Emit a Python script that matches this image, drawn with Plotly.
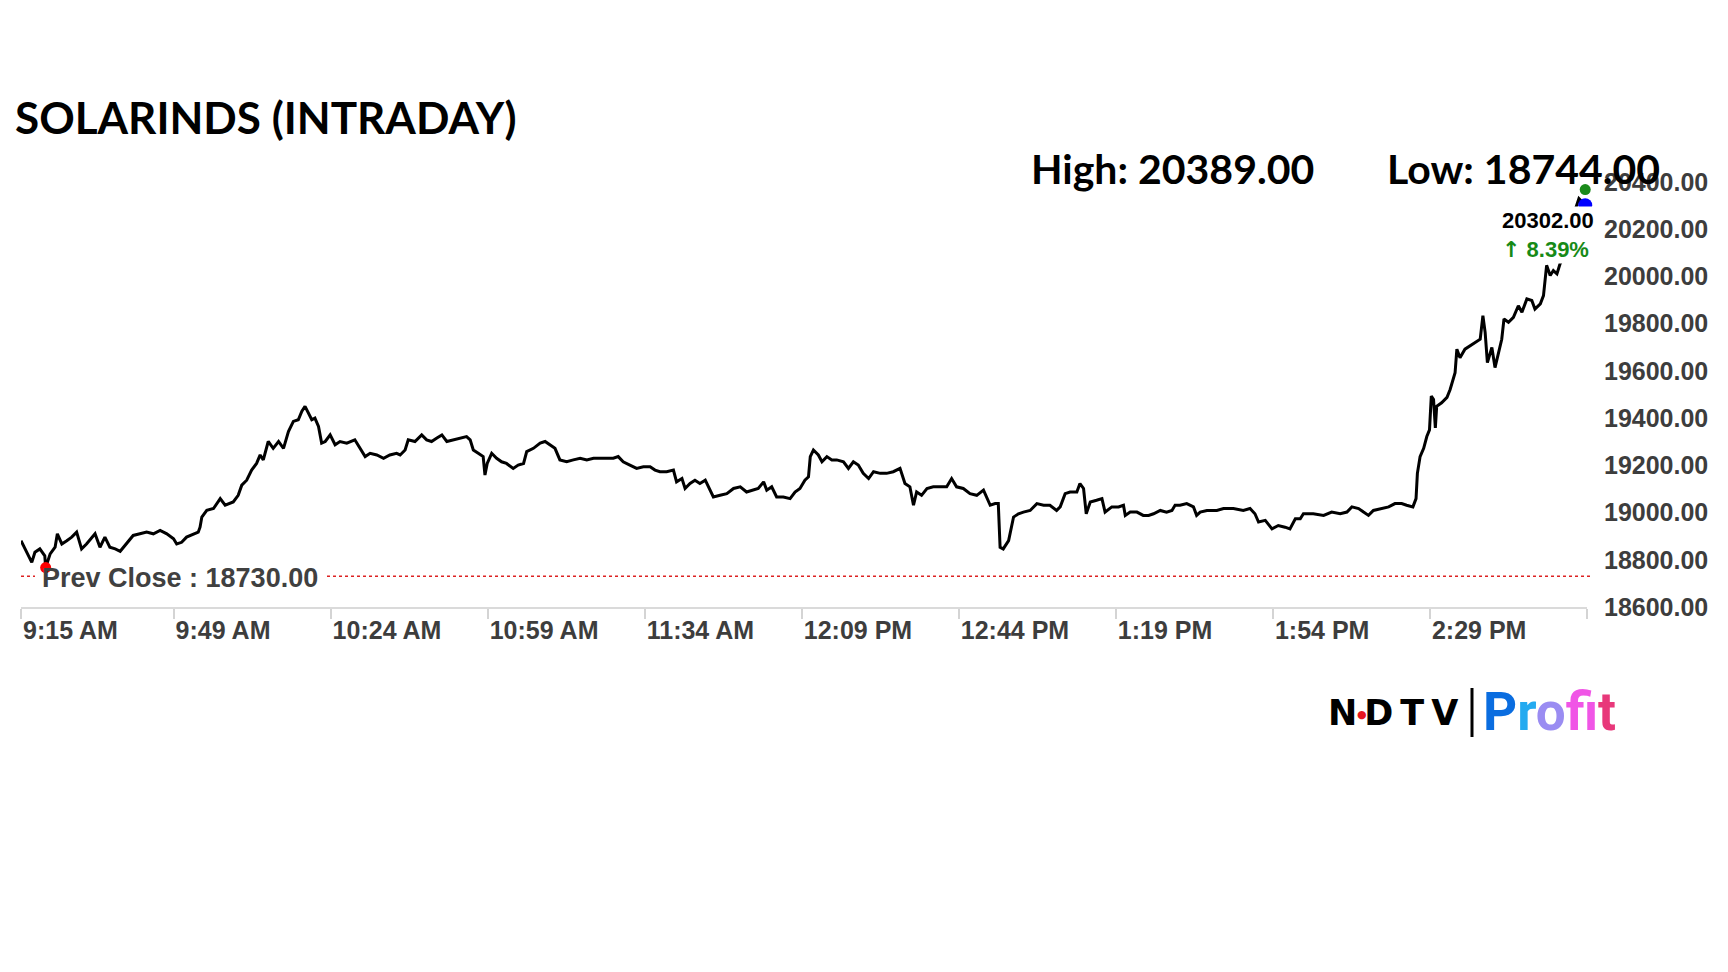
import pandas as pd
import plotly.graph_objects as go

# intraday trace: minutes after 9:15 AM and price
minutes = [
    0, 0.9, 1.6, 2.4, 3.1, 4.2, 5.3, 5.5, 6.5, 7.6, 8.1, 9.1, 10.2, 11.3, 12.4, 13.5, 14.6,
    16.5, 17.6, 18.7, 19.8, 21.0, 22.1, 23.2, 25.0, 26.5, 28.0, 29.5, 31.0, 32.5, 34.0,
    34.7, 35.8, 36.9, 38.4, 39.5, 39.9, 40.3, 41.4, 42.9, 44.4, 45.5, 47.3, 48.4, 49.2,
    50.3, 51.4, 52.5, 53.3, 54.0, 55.1, 56.2, 57.4, 58.5, 59.6, 60.7, 61.8, 62.6, 63.3,
    64.0, 64.8, 65.5, 66.3, 67.0, 67.8, 68.9, 70.0, 71.1, 72.6, 74.4, 75.6, 76.7, 77.8,
    79.3, 80.8, 82.2, 83.7,
    84.5, 85.6, 86.3, 87.8, 89.3, 90.4, 91.5, 92.6, 93.8, 94.9, 96.4, 97.8, 99.3, 100.1,
    100.8, 101.9, 103.0, 103.4, 103.9, 104.9, 106.0, 107.1, 108.2, 109.7, 110.8, 112.0,
    112.7, 114.2, 115.7, 116.8, 117.9, 119.0, 120.1, 121.6, 123.1, 124.6, 126.1, 127.6,
    129.0, 130.5, 132.0, 133.1, 134.2, 135.7, 137.2, 138.7, 140.2, 141.3, 142.4, 143.9,
    145.4, 146.1, 147.3, 148.0, 149.1, 150.2, 151.3, 152.5, 153.6, 154.3, 155.8, 157.3,
    158.8, 160.3, 161.7, 163.2, 164.3, 165.5, 166.2, 167.3, 168.4, 169.9, 171.4, 172.5,
    173.6, 174.7, 175.5, 175.9, 176.6, 177.7, 178.5, 179.6, 180.7, 181.8, 183.3, 184.4,
    185.5, 186.6, 187.7, 188.9, 190.0, 191.5, 192.9, 194.4, 195.9, 197.0, 198.1, 198.9,
    199.6, 200.7, 201.9, 203.3, 204.8, 206.3, 207.4, 208.5, 210.0, 211.5, 213.0, 214.5,
    216.0, 217.1, 217.8, 218.2, 218.9, 220.1, 221.2, 222.3, 223.4, 224.9, 226.4, 227.9,
    229.3, 230.8, 231.6, 232.7, 233.8, 235.3, 236.0, 236.8, 237.4, 238.3, 239.7, 240.9,
    241.6, 243.1, 244.6, 245.7, 246.1, 247.2, 248.7, 250.1, 251.3, 252.4, 253.9, 255.3,
    256.5, 257.2, 258.3, 259.8, 261.3, 262.0,
    262.8, 264.3, 266.5, 268.0, 270.2, 272.4, 273.9, 275.0, 275.8, 277.3, 278.8, 280.2,
    281.7, 282.8, 284.0, 285.1, 285.8, 288.0, 290.3, 292.1, 294.0, 295.5, 296.6, 298.1,
    299.2, 300.3, 301.4, 303.3, 304.8, 306.2, 307.7, 308.8, 310.2, 310.9, 311.2, 311.8,
    312.6, 313.3, 313.9, 314.3, 314.8, 315.2, 315.5, 316.6, 317.8, 318.5, 319.2, 319.6,
    320.0, 320.7, 321.8, 323.0, 324.1, 325.2, 325.8, 326.3, 326.8, 327.8, 328.5, 329.3,
    330.0, 330.5, 331.5, 332.6, 333.7, 334.5, 335.6, 336.7, 337.4, 338.6, 339.3, 340.0,
    340.8, 341.5, 342.3, 343.0, 343.4, 344.5, 345.8, 347.2, 348.6,
]
prices = [
    18881, 18846, 18825, 18789, 18832, 18846, 18817, 18767, 18825, 18853, 18910, 18867, 18881,
    18896, 18917, 18846, 18867, 18910, 18853, 18896, 18853, 18846, 18836, 18860, 18903,
    18910, 18917, 18910, 18924, 18910, 18889, 18867, 18874, 18896, 18910, 18917, 18938,
    18981, 19009, 19017, 19059, 19031, 19045, 19073, 19116, 19137, 19180, 19208, 19244,
    19223, 19301, 19272, 19301, 19272, 19343, 19386, 19393, 19429, 19450, 19422, 19393,
    19400, 19365, 19294, 19301, 19329, 19287, 19301, 19294, 19308, 19272, 19237, 19251,
    19244, 19230, 19244, 19251,
    19244, 19265, 19308, 19301, 19329, 19308, 19301, 19315, 19329, 19301, 19308, 19315,
    19322, 19308, 19265, 19251, 19237, 19159, 19208, 19251, 19230, 19215, 19208, 19187,
    19201, 19208, 19258, 19272, 19294, 19301, 19287, 19272, 19223, 19215, 19223, 19230,
    19223, 19230, 19230, 19230, 19230, 19237, 19215, 19201, 19187, 19194, 19194, 19180,
    19173, 19173, 19180, 19130, 19144, 19102, 19123, 19137, 19123, 19137, 19095, 19066,
    19073, 19080, 19102, 19109, 19087, 19095, 19102, 19130, 19095, 19109, 19066, 19066,
    19059, 19087,
    19102, 19137, 19151, 19237, 19265, 19244, 19215, 19237, 19223, 19223, 19215, 19187,
    19215, 19201, 19166, 19144, 19173, 19166, 19166, 19173, 19187, 19123, 19109, 19031,
    19087, 19073, 19102, 19109, 19109, 19109, 19144, 19109, 19102, 19080, 19073, 19095,
    19031, 19038, 19038, 18853, 18846, 18881, 18981, 18995, 19002, 19009, 19038, 19031,
    19031, 19009, 19024, 19080, 19087, 19087, 19123, 19102, 18995, 19045, 19052, 19059,
    19002, 19024, 19024, 19031, 18988, 19002, 19002, 18988, 18988, 18995, 19009, 19002,
    19009, 19031, 19031, 19038, 19024, 18988,
    19002, 19009, 19009, 19017, 19017, 19009, 19017, 18995, 18960, 18967, 18931, 18945,
    18938, 18931, 18974, 18974, 18995, 18995, 18988, 19002, 18995, 19002, 19024, 19017,
    19002, 18988, 19009, 19017, 19024, 19038, 19038, 19031, 19024, 19059, 19166, 19237,
    19272, 19322, 19350, 19493, 19479, 19358, 19450, 19465, 19488, 19521, 19571, 19592,
    19692, 19656, 19692, 19706, 19720, 19734, 19834, 19763, 19635, 19699, 19614, 19685,
    19734, 19820, 19806, 19827, 19876, 19848, 19905, 19898, 19862, 19884, 19919, 20047,
    20004, 20025, 20011, 20054, 20068, 20150, 20250, 20330, 20302,
]

symbol = "SOLARINDS"
prev_close = 18730.00
day_high = 20389.00
day_low = 18744.00
last_price = 20302.00
change_pct = 8.39
# dots as they sit on the picture
low_dot_minute = 5.5
low_dot_price = 18767
high_dot_price = 20368

tick_labels = ["9:15 AM", "9:49 AM", "10:24 AM", "10:59 AM", "11:34 AM",
               "12:09 PM", "12:44 PM", "1:19 PM", "1:54 PM", "2:29 PM", "3:04 PM"]
y_ticks = [18600, 18800, 19000, 19200, 19400, 19600, 19800, 20000, 20200, 20400]

day = "2024-01-01"
open_time = pd.Timestamp(f"{day} 09:15")
times = open_time + pd.to_timedelta(minutes, unit="min")
tick_vals = [pd.Timestamp(f"{day} {t}") for t in tick_labels]
tick_text = tick_labels[:-1] + [""]

# plot box in page pixels
W, H = 1728, 972
L, R, T, B = 21, 1587, 182, 607


def px(x):
    return (x - L) / (R - L)


def py(y):
    return (B - y) / (B - T)


fig = go.Figure()

fig.add_trace(go.Scatter(
    x=times, y=prices, mode="lines",
    line=dict(color="black", width=3),
    hoverinfo="x+y", showlegend=False,
))
fig.add_trace(go.Scatter(
    x=[open_time + pd.Timedelta(minutes=low_dot_minute)], y=[low_dot_price],
    mode="markers", marker=dict(color="#ff0000", size=11),
    cliponaxis=False, showlegend=False,
))
fig.add_trace(go.Scatter(
    x=[times[-1]], y=[high_dot_price], mode="markers",
    marker=dict(color="#1a8a1a", size=11), cliponaxis=False, showlegend=False,
))
fig.add_trace(go.Scatter(
    x=[times[-1]], y=[last_price], mode="markers",
    marker=dict(color="#0000ff", size=14), cliponaxis=False, showlegend=False,
))

# prev close dotted line, broken where the label sits
for a, b in [(0, px(35)), (px(327), px(1590))]:
    fig.add_shape(type="line", xref="paper", yref="y", x0=a, x1=b,
                  y0=prev_close, y1=prev_close,
                  line=dict(color="#d22", width=1.5, dash="dot"))

fig.add_shape(type="line", xref="paper", yref="paper",
              x0=px(1472), x1=px(1472), y0=py(688), y1=py(737),
              line=dict(color="black", width=3))

ann = [
    dict(text=f"{symbol} (INTRADAY)", x=px(13), y=py(117),
         font=dict(family="Lato", size=44, color="black", weight="bold")),
    dict(text=f"High: {day_high:.2f}", x=px(1029), y=py(168),
         font=dict(family="Lato", size=41, color="black", weight="bold")),
    dict(text=f"Low: {day_low:.2f}", x=px(1385), y=py(168),
         font=dict(family="Lato", size=41, color="black", weight="bold")),
    dict(text=f"Prev Close : {prev_close:.2f}", x=px(40), y=py(578),
         font=dict(family="Liberation Sans", size=27, color="#404040", weight="bold")),
    dict(text=(f"{last_price:.2f}<br><span style='color:#178a17'>"
               f"<span style='font-family:DejaVu Sans'>↑</span> {change_pct:.2f}%</span>"),
         x=px(1500), y=py(235), align="left", bgcolor="white",
         font=dict(family="Liberation Sans", size=22, color="black", weight="bold")),
    dict(text="N\u2009D\u2009T\u2009V", x=px(1326), y=py(713),
         font=dict(family="DejaVu Sans", size=35, color="black", weight="bold")),
    dict(text="●", x=px(1355), y=py(714),
         font=dict(family="DejaVu Sans", size=11, color="#e8141e")),
    dict(text=("<span style='color:#0a6de0'>P</span>"
               "<span style='color:#24aaf0'>r</span>"
               "<span style='color:#9a8cf2'>o</span>"
               "<span style='color:#f055e6'>f</span>"
               "<span style='color:#f243bf'>i</span>"
               "<span style='color:#e8387a'>t</span>"),
         x=px(1481), y=py(712),
         font=dict(family="Roboto", size=53, weight="bold")),
]
for a in ann:
    a.update(xref="paper", yref="paper", xanchor="left", yanchor="middle", showarrow=False)

fig.update_layout(
    width=W, height=H,
    margin=dict(l=L, r=W - R, t=T, b=H - B),
    paper_bgcolor="white", plot_bgcolor="white",
    annotations=ann,
    hovermode="closest",
)
fig.update_xaxes(
    type="date",
    range=[open_time, tick_vals[-1]],
    tickvals=tick_vals, ticktext=tick_text,
    ticklabelposition="outside right",
    showgrid=False, zeroline=False,
    showline=True, linecolor="#dadada", linewidth=2,
    ticks="outside", ticklen=10, tickwidth=2, tickcolor="#d4d4d4",
    tickfont=dict(family="Liberation Sans", size=25, color="#3d3d3d", weight="bold"),
)
fig.update_yaxes(
    range=[y_ticks[0], y_ticks[-1]], side="right",
    tickvals=y_ticks, ticktext=[f"{v:.2f}" for v in y_ticks],
    showgrid=False, zeroline=False, showline=False, ticks="",
    ticklabelstandoff=16,
    tickfont=dict(family="Liberation Sans", size=25, color="#3d3d3d", weight="bold"),
)

fig.write_html("out.html", config={"displayModeBar": False},
               post_script="document.body.style.margin='0';")
